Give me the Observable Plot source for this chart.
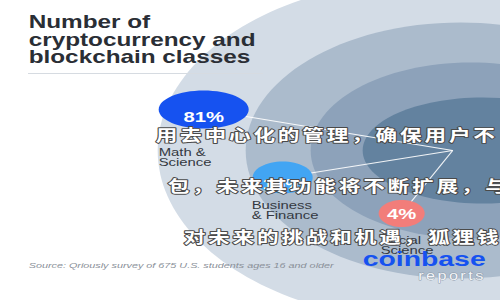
<!DOCTYPE html>
<html><head><meta charset="utf-8">
<script src="https://cdn.jsdelivr.net/npm/d3@7"></script>
<script src="https://cdn.jsdelivr.net/npm/@observablehq/plot@0.6"></script>
<style>
html,body{margin:0;padding:0;background:#fff;}
#chart svg{display:block;}
</style></head><body><div id="chart"></div><script>
// ---- data ----
const categories = ["Math &\nScience", "Business\n& Finance", "Social\nScience"];
const shares = [81, 15, 4];
const titleText = "Number of\ncryptocurrency and\nblockchain classes";
const sourceText = "Source: Qriously survey of 675 U.S. students ages 16 and older";
const brandText = "coinbase";
const brandSub = "reports";
const watermarkLines = ["用去中心化的管理，确保用户不", "包，未来其功能将不断扩展，与", "对未来的挑战和机遇，狐狸钱"];

// ---- layout (display px) ----
const bubbleX = [203, 282, 401];
const bubbleY = [109, 177, 213];
const bubbleRx = [45, 33, 23];
const bubbleRy = [19, 17.5, 13.5];
const pctY = [117, 184, 214];
const labelX = [158, 251, 380];
const labelY = [148, 201, 236];
const bubbleColors = ["#1652f0", "#42a5f3", "#f27d7a"];
const ringX = [430, 460, 470, 482];
const ringRx = [273, 215, 160, 120];
const ringRy = [171, 128, 88, 53];
const ringColors = ["#d3dce6", "#abbbcc", "#8da2ba", "#63829f"];
const hub = [452, 150];
const wmX = [155, 167, 183];
const wmY = [135, 186, 237];

const W = 370, H = 300, S = 500 / W;

function ellipseSymbol(aspect) {
  return {
    draw(ctx, size) {
      const r = Math.sqrt(size / Math.PI), rx = r * aspect, ry = r, k = 0.5522847498;
      ctx.moveTo(rx, 0);
      ctx.bezierCurveTo(rx, ry * k, rx * k, ry, 0, ry);
      ctx.bezierCurveTo(-rx * k, ry, -rx, ry * k, -rx, 0);
      ctx.bezierCurveTo(-rx, -ry * k, -rx * k, -ry, 0, -ry);
      ctx.bezierCurveTo(rx * k, -ry, rx, -ry * k, rx, 0);
      ctx.closePath();
    }
  };
}

const rings = ringX.map((x, i) => ({x, y: 150, rx: ringRx[i], ry: ringRy[i], color: ringColors[i]}));
const bubbles = categories.map((c, i) => ({
  category: c, share: shares[i], x: bubbleX[i], y: bubbleY[i], ty: pctY[i],
  lx: labelX[i], ly: labelY[i], color: bubbleColors[i]
}));
const wm = watermarkLines.map((t, i) => ({t, x: wmX[i], y: wmY[i]}));

const plot = Plot.plot({
  width: W, height: H, margin: 0,
  style: {fontFamily: "'Liberation Sans', Arial, sans-serif", background: "white"},
  x: {domain: [0, 500], range: [0, W], axis: null},
  y: {domain: [0, 300], range: [0, H], axis: null},
  r: {type: "log", domain: [4, 81], range: [13.5, 19]},
  marks: [
    ...rings.map(d => Plot.dot([d], {x: "x", y: "y", r: d.ry, symbol: ellipseSymbol(d.rx / (S * d.ry)), fill: d.color, stroke: "none"})),
    Plot.ruleY([73], {x1: 28, x2: 263, stroke: "#d6dbe1", strokeWidth: 1}),
    Plot.text([titleText], {x: 28, y: 15.5, text: d => d, textAnchor: "start", lineAnchor: "top", fontSize: 18, fontWeight: "bold", lineHeight: 0.97, fill: "#2a2e35"}),
    Plot.link(bubbles, {x1: "x", y1: "y", x2: hub[0], y2: hub[1], stroke: "white", strokeWidth: 0.9, strokeOpacity: 0.9}),
    ...bubbles.map((b, i) => Plot.dot([b], {x: "x", y: "y", r: "share", symbol: ellipseSymbol(bubbleRx[i] / (S * bubbleRy[i])), fill: b.color, stroke: "none"})),
    Plot.text(bubbles, {x: "x", y: "ty", text: d => d.share + "%", fill: "white", fontSize: 15, fontWeight: "bold"}),
    Plot.text(bubbles, {x: "lx", y: "ly", text: "category", textAnchor: "start", lineAnchor: "top", lineHeight: 0.95, fontSize: 11, fill: "#343941"}),
    Plot.text([sourceText], {x: 28, y: 265, text: d => d, textAnchor: "start", fontSize: 8, fontStyle: "italic", fill: "#8a9099"}),
    Plot.text([brandText], {x: 485, y: 259, text: d => d, textAnchor: "end", fontSize: 21, fontWeight: "bold", fill: "#1652f0"}),
    Plot.text([brandSub], {x: 485, y: 276, text: d => d, textAnchor: "end", fontSize: 12, fill: "#f3f5f8", stroke: "#8d9aa8", strokeWidth: 0.8, paintOrder: "stroke"}),
    Plot.text(wm, {x: "x", y: "y", text: "t", textAnchor: "start", fontSize: 16, fontWeight: 700, fontFamily: "'Noto Sans CJK SC', sans-serif", fill: "white", stroke: "#4a4a4a", strokeWidth: 1.8, strokeLinejoin: "round", paintOrder: "stroke"})
  ]
});

// letter spacing for the spaced-out texts
plot.querySelectorAll("text").forEach(t => {
  if (watermarkLines.includes(t.textContent)) t.style.letterSpacing = "2.1px";
  if (t.textContent === brandSub) t.style.letterSpacing = "1.8px";
});

plot.setAttribute("width", 500);
plot.setAttribute("height", 300);
plot.setAttribute("viewBox", `0 0 ${W} ${H}`);
plot.setAttribute("preserveAspectRatio", "none");
plot.style.maxWidth = "none";
plot.style.width = "500px";
plot.style.height = "300px";
document.getElementById("chart").appendChild(plot);
</script></body></html>
